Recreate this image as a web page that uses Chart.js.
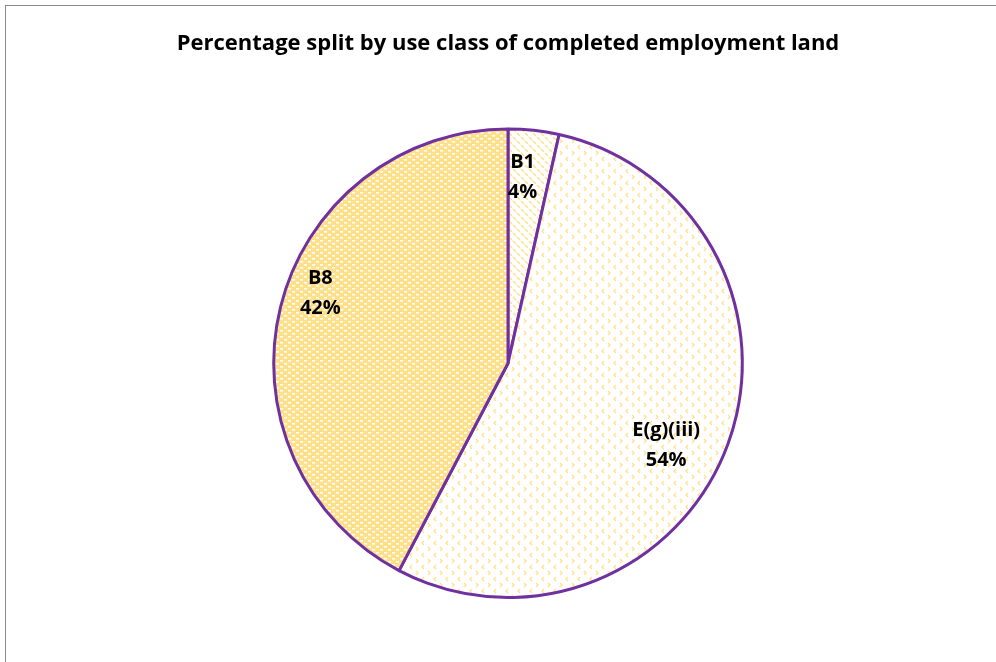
<!DOCTYPE html>
<html>
<head>
<meta charset="utf-8">
<script src="https://cdn.jsdelivr.net/npm/chart.js@4"></script>
<style>
  html, body { margin: 0; padding: 0; background: #fff; overflow: hidden; }
  #wrap { position: relative; width: 996px; height: 662px; }
  #frame { position: absolute; left: 5px; top: 5px; width: 2000px; height: 2000px;
           border-left: 1px solid #8a8a8a; border-top: 1px solid #8a8a8a; pointer-events: none; }
</style>
</head>
<body>
<div id="wrap">
  <canvas id="chart" width="996" height="662"></canvas>
  <div id="frame"></div>
</div>
<script>
'use strict';

// data
const categories = ['B1', 'E(g)(iii)', 'B8'];
const shares = [3.5, 54.2, 42.3]; // percent
const title = 'Percentage split by use class of completed employment land';

// small pattern tiles, roughly matching the excel fills
function makePattern(kind) {
    const c = document.createElement('canvas');
    const g = c.getContext('2d');
    if (kind === 'dashDiag') {
        c.width = 8; c.height = 8;
        g.fillStyle = '#fff'; g.fillRect(0, 0, 8, 8);
        g.strokeStyle = '#FFE08A'; g.lineWidth = 1.4;
        g.beginPath(); g.moveTo(1, 1); g.lineTo(4, 4); g.stroke();
        g.beginPath(); g.moveTo(5, 5); g.lineTo(8, 8); g.stroke();
    } else if (kind === 'brick') {
        c.width = 8; c.height = 6;
        g.fillStyle = '#FFE08A'; g.fillRect(0, 0, 8, 6);
        g.fillStyle = '#fff';
        g.fillRect(0, 0, 3, 1.6);
        g.fillRect(4, 3, 3, 1.6);
    } else { // divot
        c.width = 12; c.height = 12;
        g.fillStyle = '#fff'; g.fillRect(0, 0, 12, 12);
        g.strokeStyle = '#FFE08A'; g.lineWidth = 1.3;
        g.beginPath(); g.moveTo(4, 1); g.lineTo(2, 3); g.lineTo(4, 5); g.stroke();
        g.beginPath(); g.moveTo(8, 7); g.lineTo(10, 9); g.lineTo(8, 11); g.stroke();
    }
    return g.createPattern(c, 'repeat');
}

// label placement: fraction of radius along mid angle, then a small nudge (px)
const labelFrac = [0.8, 0.76, 0.86];
const labelNudge = [[-6, 0], [-9, 21], [8, -22]];

const sliceLabels = {
    id: 'sliceLabels',
    afterDatasetsDraw(chart) {
        const ctx = chart.ctx;
        const meta = chart.getDatasetMeta(0);
        ctx.save();
        ctx.font = 'bold 20px "Open Sans", sans-serif';
        ctx.fillStyle = '#000';
        ctx.textAlign = 'center';
        ctx.textBaseline = 'middle';
        meta.data.forEach((arc, i) => {
            const p = arc.getProps(['x', 'y', 'startAngle', 'endAngle', 'outerRadius'], true);
            const mid = (p.startAngle + p.endAngle) / 2;
            const r = p.outerRadius * labelFrac[i];
            const x = p.x + Math.cos(mid) * r + labelNudge[i][0];
            const y = p.y + Math.sin(mid) * r + labelNudge[i][1];
            ctx.fillText(categories[i], x, y - 15);
            ctx.fillText(Math.round(shares[i]) + '%', x, y + 15);
        });
        ctx.restore();
    }
};

new Chart(document.getElementById('chart'), {
    type: 'pie',
    data: {
        labels: categories,
        datasets: [{
            data: shares,
            backgroundColor: [makePattern('dashDiag'), makePattern('divot'), makePattern('brick')],
            borderColor: '#7030A0',
            borderWidth: 3
        }]
    },
    options: {
        responsive: false,
        animation: false,
        layout: { padding: { left: 20, right: 0, top: 0, bottom: 63 } },
        plugins: {
            legend: { display: false },
            tooltip: { enabled: false },
            title: {
                display: true,
                text: title,
                color: '#000',
                font: { family: '"Open Sans", sans-serif', size: 22, weight: 'bold' },
                padding: { top: 31, bottom: 70 }
            }
        }
    },
    plugins: [sliceLabels]
});
</script>
</body>
</html>
